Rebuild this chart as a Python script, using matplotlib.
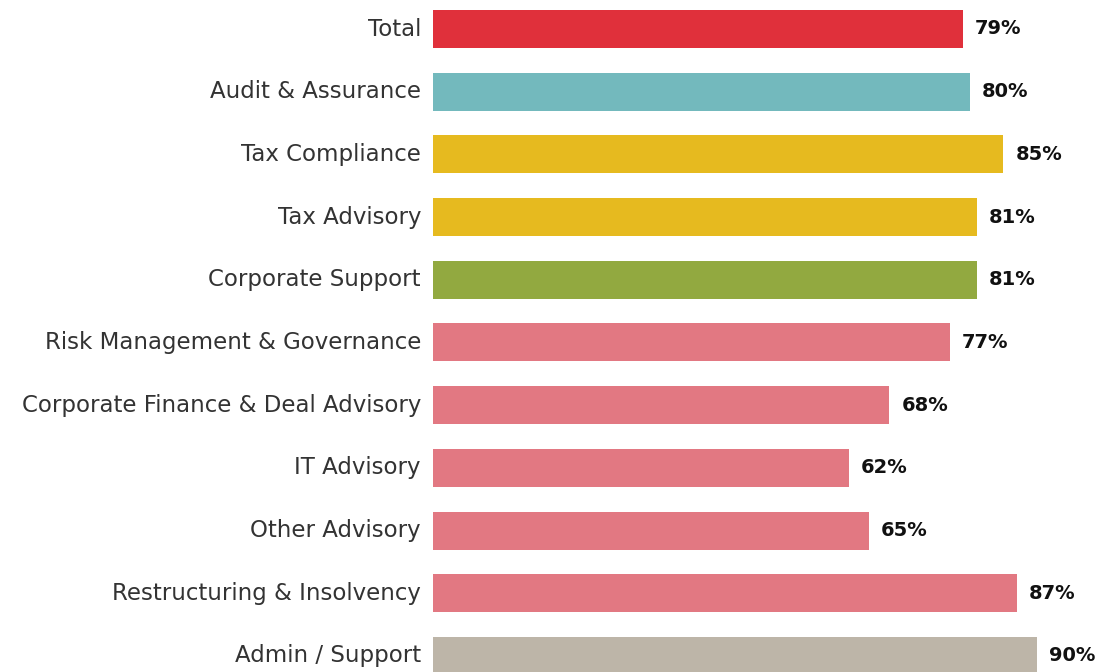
import matplotlib
matplotlib.use("Agg")
import matplotlib.pyplot as plt

categories = [
    "Total",
    "Audit & Assurance",
    "Tax Compliance",
    "Tax Advisory",
    "Corporate Support",
    "Risk Management & Governance",
    "Corporate Finance & Deal Advisory",
    "IT Advisory",
    "Other Advisory",
    "Restructuring & Insolvency",
    "Admin / Support",
]
values = [79, 80, 85, 81, 81, 77, 68, 62, 65, 87, 90]
colors = [
    "#E0303B", "#73B9BD", "#E6BA1F", "#E6BA1F", "#92A940",
    "#E27882", "#E27882", "#E27882", "#E27882", "#E27882", "#BDB5A8",
]

W, H = 1102, 672
fig = plt.figure(figsize=(W / 100, H / 100), dpi=100)
left_px = 433
ax = fig.add_axes([left_px / W, 0, 1 - left_px / W, 1])

px_per_unit = 6.71
row = 62.7
first_center = 29.0
ax.set_xlim(0, (W - left_px) / px_per_unit)
ax.set_ylim((H - first_center) / row, -first_center / row)

ypos = list(range(len(categories)))
ax.barh(ypos, values, height=38 / row, color=colors, left=0)

for y, v, c in zip(ypos, values, categories):
    ax.text(v + 12 / px_per_unit, y, f"{v}%", va="center", ha="left",
            fontsize=14, fontweight="bold", color="#111111")
    ax.text(-12 / px_per_unit, y, c, va="center", ha="right",
            fontsize=16.5, color="#333333", clip_on=False)

ax.axis("off")
fig.savefig("out.png", dpi=100)
